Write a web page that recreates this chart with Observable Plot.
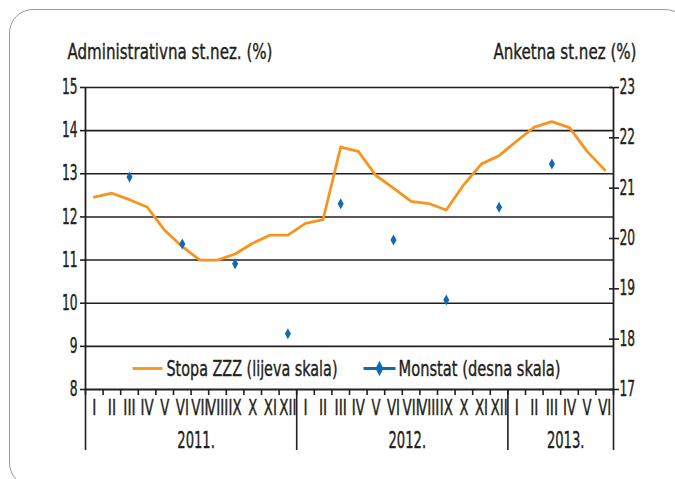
<!DOCTYPE html>
<html><head><meta charset="utf-8">
<script src="https://cdn.jsdelivr.net/npm/d3@7"></script>
<script src="https://cdn.jsdelivr.net/npm/@observablehq/plot@0.6"></script>
<style>
body{margin:0;background:#fff;}
#wrap{position:relative;width:675px;height:479px;overflow:hidden;background:#fff;}
#wrap svg{position:absolute;left:0;top:0;}
#border{position:absolute;left:9px;top:9px;width:680px;height:478px;border:1.3px solid #9a9a9a;border-radius:24px;box-sizing:border-box;pointer-events:none;}
</style></head><body><div id="wrap"></div>
<script>
// ---- data ----
const monthLabels = ["I","II","III","IV","V","VI","VII","VIII","IX","X","XI","XII",
                     "I","II","III","IV","V","VI","VII","VIII","IX","X","XI","XII",
                     "I","II","III","IV","V","VI"];
const yearLabels = ["2011.","2012.","2013."];
const yearMonths = [12,12,6];
const zzz = [12.46,12.55,12.40,12.23,11.69,11.31,11.00,11.00,11.14,11.39,11.58,11.58,
             11.85,11.94,13.62,13.52,12.96,12.67,12.36,12.31,12.16,12.75,13.23,13.42,
             13.76,14.08,14.21,14.07,13.52,13.09];
const monstatMonths = [2,5,8,11,14,17,20,23,26];
const monstat = [21.22,19.89,19.50,18.11,20.69,19.97,18.78,20.62,21.48];
const leftTicks = [8,9,10,11,12,13,14,15];
const rightTicks = [17,18,19,20,21,22,23];
const leftTitle = "Administrativna st.nez. (%)";
const rightTitle = "Anketna st.nez (%)";
const legend1 = "Stopa ZZZ (lijeva skala)";
const legend2 = "Monstat (desna skala)";

// ---- helpers ----
const ORANGE = "#f7941d", BLUE = "#1169b3", INK = "#231f20";
const fontFam = '"Liberation Sans Narrow","DejaVu Sans Condensed","Arial Narrow","Liberation Sans",sans-serif';
// font size giving a wanted cap height in whatever font is installed
const ctx2 = document.createElement("canvas").getContext("2d");
ctx2.font = `100px ${fontFam}`;
const capRatio = (ctx2.measureText("H").actualBoundingBoxAscent || 72) / 100;
const fsFor = cap => +(cap / capRatio).toFixed(2);
const CAP_TITLE = 16, CAP_TICK = 15, CAP_ROMAN = 15, CAP_YEAR = 16.3, CAP_LEG = 16;

const L0 = leftTicks[0], L1 = leftTicks[leftTicks.length-1];
const R0 = rightTicks[0], R1 = rightTicks[rightTicks.length-1];
const toLeft = v => L0 + (v - R0) * (L1 - L0) / (R1 - R0);
const toRight = v => R0 + (v - L0) * (R1 - R0) / (L1 - L0);

const bounds = Array.from(d3.cumsum([0, ...yearMonths]));
const yearCenters = yearMonths.map((m,i) => bounds[i] + m/2);
const nMonths = monthLabels.length;

const zzzData = zzz.map((v,i) => ({i, v}));
const monData = monstat.map((v,k) => ({i: monstatMonths[k], v: toLeft(v)}));

const tallDiamond = {draw(ctx, size){ const r = Math.sqrt(size/Math.PI); const w = r*0.55;
  ctx.moveTo(0,-r); ctx.lineTo(w,0); ctx.lineTo(0,r); ctx.lineTo(-w,0); ctx.closePath(); }};
const hLine = {draw(ctx, size){ const r = Math.sqrt(size/Math.PI);
  ctx.moveTo(-r,0); ctx.lineTo(r,0); }};
const lineDiamond = {draw(ctx, size){ const r = Math.sqrt(size/Math.PI);
  ctx.moveTo(-r,0); ctx.lineTo(r,0);
  const h = 4.6, w = 2.4;
  ctx.moveTo(0,-h); ctx.lineTo(w,0); ctx.lineTo(0,h); ctx.lineTo(-w,0); ctx.closePath(); }};

const chart = Plot.plot({
  width: 675, height: 479,
  marginTop: 87, marginBottom: 90, marginLeft: 85, marginRight: 62,
  style: {fontFamily: fontFam, fontSize: fsFor(CAP_TICK) + "px", color: INK, background: "transparent"},
  x: {domain: [0, nMonths], axis: null},
  y: {domain: [L0, L1], axis: null},
  marks: [
    Plot.ruleY(leftTicks.slice(1), {stroke: INK, strokeWidth: 1.6}),
    Plot.ruleY([L0], {stroke: INK, strokeWidth: 1.8}),
    Plot.ruleX([0, nMonths], {y1: L0, y2: L1, stroke: INK, strokeWidth: 1.8}),
    Plot.ruleX(bounds, {y1: L0, y2: L0, insetBottom: -61, stroke: INK, strokeWidth: 1.6}),
    Plot.ruleX(d3.range(nMonths+1), {y1: L0, y2: L0, insetBottom: -6, stroke: INK, strokeWidth: 1.6}),
    Plot.axisY(leftTicks, {anchor: "left", tickSize: 5, tickPadding: 3, strokeWidth: 1.6, fontSize: fsFor(CAP_TICK), label: null, tickFormat: d => d}),
    Plot.axisY(rightTicks.map(toLeft), {anchor: "right", tickSize: 5, tickPadding: 1, strokeWidth: 1.6, fontSize: fsFor(CAP_TICK), label: null, tickFormat: d => Math.round(toRight(d))}),
    Plot.ruleY(rightTicks.map(toLeft), {x1: nMonths, x2: nMonths, insetLeft: -4, stroke: INK, strokeWidth: 1.6}),
    Plot.text(monthLabels, {x: (d,i) => i + 0.5, frameAnchor: "bottom", lineAnchor: "middle", dy: 19, fontSize: fsFor(CAP_ROMAN), fill: INK}),
    Plot.text(yearLabels, {x: (d,i) => yearCenters[i], frameAnchor: "bottom", lineAnchor: "middle", dy: 51, dx: 5, fontSize: fsFor(CAP_YEAR), fill: INK}),
    Plot.text([leftTitle], {frameAnchor: "top-left", textAnchor: "start", lineAnchor: "bottom", dx: -18, dy: -29, fontSize: fsFor(CAP_TITLE), fill: INK}),
    Plot.text([rightTitle], {frameAnchor: "top-right", textAnchor: "end", lineAnchor: "bottom", dx: 23, dy: -29, fontSize: fsFor(CAP_TITLE), fill: INK}),
    Plot.line(zzzData, {x: d => d.i + 0.5, y: "v", stroke: ORANGE, strokeWidth: 2.8}),
    Plot.dot(monData, {x: d => d.i + 0.5, y: "v", symbol: tallDiamond, r: 5.5, fill: BLUE, stroke: null}),
    // legend
    Plot.dot([legend1], {frameAnchor: "bottom-left", dx: 62, dy: -21, symbol: hLine, r: 15, stroke: ORANGE, strokeWidth: 2.8, fill: "none"}),
    Plot.text([legend1], {frameAnchor: "bottom-left", textAnchor: "start", lineAnchor: "middle", dx: 81, dy: -21, fontSize: fsFor(CAP_LEG), fill: INK}),
    Plot.dot([legend2], {frameAnchor: "bottom-left", dx: 294, dy: -21, symbol: lineDiamond, r: 16, stroke: BLUE, strokeWidth: 2.8, fill: BLUE}),
    Plot.text([legend2], {frameAnchor: "bottom-left", textAnchor: "start", lineAnchor: "middle", dx: 313, dy: -21, fontSize: fsFor(CAP_LEG), fill: INK})
  ]
});
const wrap = document.getElementById("wrap");
wrap.appendChild(chart);
const border = document.createElement("div"); border.id = "border"; wrap.appendChild(border);

// condense text to match the narrow typeface of the original (widths in px)
const widthTargets = {[leftTitle]: 205, [rightTitle]: 143, [legend1]: 171, [legend2]: 162};
const romanW = {I: 4.1, V: 9, X: 9};
d3.select(chart).selectAll("text").each(function(){
  const str = this.textContent;
  let target;
  if (widthTargets[str] != null) target = widthTargets[str];
  else if (/^[\d.]+$/.test(str)) {
    const big = yearLabels.includes(str);
    target = 0; for (const c of str) target += c === "." ? 4 : (big ? 8.4 : 7.8);
  } else if (/^[IVX]+$/.test(str)) {
    target = 0; for (const c of str) target += romanW[c];
  } else return;
  this.setAttribute("textLength", target.toFixed(2));
  this.setAttribute("lengthAdjust", "spacingAndGlyphs");
  this.style.stroke = INK; this.style.strokeWidth = "0.4px";
});
</script></body></html>
